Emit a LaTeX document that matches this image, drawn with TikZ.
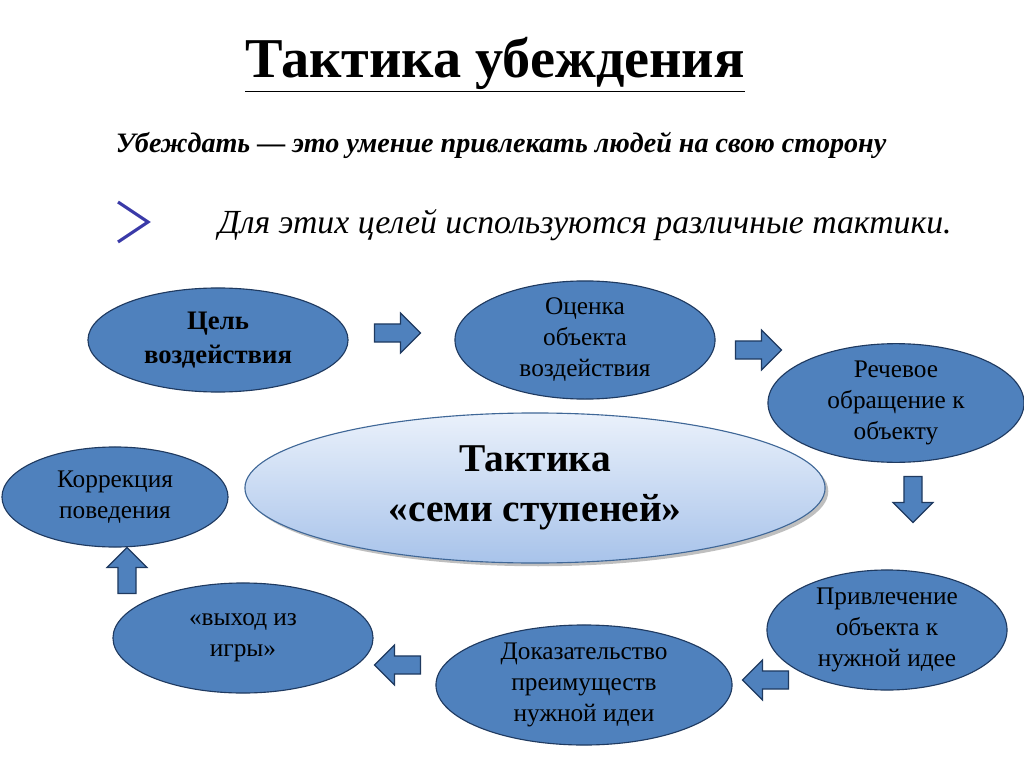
\documentclass[tikz,border=0pt]{standalone}
\usepackage{fontspec}
\setmainfont{Liberation Serif}
\usetikzlibrary{shapes.arrows,shapes.geometric,shadows}
\definecolor{stepblue}{HTML}{4F81BD}
\definecolor{stepline}{HTML}{1F3A60}
\definecolor{hubtop}{HTML}{EAF1FB}
\definecolor{hubbot}{HTML}{A8C3EA}
\definecolor{markblue}{HTML}{3A3AA8}
\begin{document}
\begin{tikzpicture}[x=0.025cm,y=-0.025cm]
   \tikzstyle{stepnode}=[ellipse,fill=stepblue,draw=stepline,thick,text=black,align=center,font=\fontsize{18}{22}\selectfont,inner sep=0pt]
   \tikzstyle{blockarrow}=[single arrow,fill=stepblue,draw=stepline,thick,minimum height=1.15cm,minimum width=1cm,single arrow head extend=0.2cm,inner xsep=0pt,inner ysep=0.15cm]
   \useasboundingbox (0,0) rectangle (1024,767);
   \node (title) at (495,65) {\fontsize{40}{46}\selectfont\bfseries\underline{Тактика убеждения}};
   \node (sub) at (501,145) {\fontsize{20}{24}\selectfont\bfseries\itshape Убеждать — это умение привлекать людей на свою сторону};
   \draw [markblue,line width=2.2pt] (118,202) -- (148,222) -- (118,242);
   \node (aim) at (585,225) {\fontsize{24}{28}\selectfont\itshape Для этих целей используются различные тактики.};
   \node (hub) [ellipse,draw=stepblue!80!black,thick,top color=hubtop,bottom color=hubbot,drop shadow,minimum width=14.5cm,minimum height=3.75cm,align=center,font=\fontsize{28}{36}\selectfont\bfseries] at (535,488) {Тактика\\«семи ступеней»};
   \node (goal) [stepnode,minimum width=6.5cm,minimum height=2.6cm,font=\fontsize{19}{24}\selectfont\bfseries] at (218,340) {Цель\\воздействия};
   \node (eval) [stepnode,minimum width=6.5cm,minimum height=2.5cm] at (585,340) {Оценка\\объекта\\воздействия};
   \node (speech) [stepnode,minimum width=6.4cm,minimum height=2.75cm] at (896,403) {Речевое\\обращение к\\объекту};
   \node (attract) [stepnode,minimum width=6cm,minimum height=3cm] at (887,630) {Привлечение\\объекта к\\нужной идее};
   \node (proof) [stepnode,minimum width=7.4cm,minimum height=3cm] at (584,685) {Доказательство\\преимуществ\\нужной идеи};
   \node (exit) [stepnode,minimum width=6.5cm,minimum height=2.75cm] at (243,638) {«выход из\\игры»};
   \node (fix) [stepnode,minimum width=5.65cm,minimum height=2.5cm] at (115,497) {Коррекция\\поведения};
   \node (a1) [blockarrow] at (393,333) {};
   \node (a2) [blockarrow] at (754,350) {};
   \node (a3) [blockarrow,rotate=-90] at (913,495) {};
   \node (a4) [blockarrow,rotate=180] at (770,680) {};
   \node (a5) [blockarrow,rotate=180] at (402,665) {};
   \node (a6) [blockarrow,rotate=90] at (127,575) {};
\end{tikzpicture}
\end{document}
